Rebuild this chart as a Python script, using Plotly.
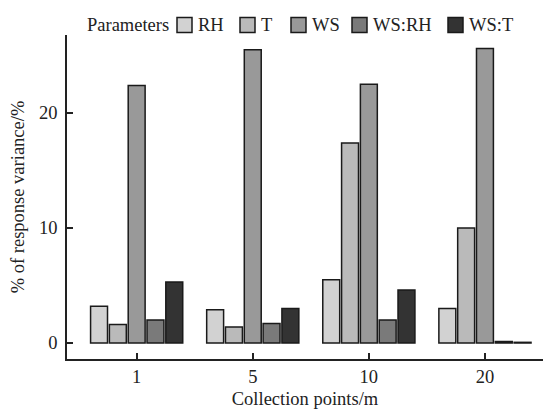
import plotly.graph_objects as go

categories = ["1", "5", "10", "20"]
series_names = ["RH", "T", "WS", "WS:RH", "WS:T"]
rh = [3.2, 2.9, 5.5, 3.0]
t = [1.6, 1.4, 17.4, 10.0]
ws = [22.4, 25.5, 22.5, 25.6]
ws_rh = [2.0, 1.7, 2.0, 0.14]
ws_t = [5.3, 3.0, 4.6, 0.06]
values = [rh, t, ws, ws_rh, ws_t]
colors = ["#d2d2d2", "#bababa", "#999999", "#7a7a7a", "#333333"]

FONT = "Liberation Serif"
FS = 18.5
W, H = 545, 409
ML, MR, MT, MB = 67, 2, 35, 50
PW, PH = W - ML - MR, H - MT - MB


def px_x(px):
    return (px - ML) / PW


def px_y(py):
    return (H - MB - py) / PH


fig = go.Figure()
for name, vals, col in zip(series_names, values, colors):
    fig.add_trace(go.Bar(
        x=categories, y=vals, name=name, showlegend=False,
        marker=dict(color=col, line=dict(color="#1a1a1a", width=1.5)),
    ))

# manual horizontal legend (layout positions in pixels)
legend_box_left = [177, 240, 291, 352, 448]
box_size = 15
legend_cy = 25
shapes = []
annotations = [dict(
    text="Parameters", x=px_x(171), y=px_y(legend_cy), xref="paper", yref="paper",
    xanchor="right", yanchor="middle", showarrow=False,
    font=dict(family=FONT, size=FS, color="#222222"),
)]
for name, col, bx in zip(series_names, colors, legend_box_left):
    shapes.append(dict(
        type="rect", xref="paper", yref="paper",
        x0=px_x(bx), x1=px_x(bx + box_size),
        y0=px_y(legend_cy + box_size / 2), y1=px_y(legend_cy - box_size / 2),
        fillcolor=col, line=dict(color="#1a1a1a", width=1.5),
    ))
    annotations.append(dict(
        text=name, x=px_x(bx + box_size + 4), y=px_y(legend_cy),
        xref="paper", yref="paper", xanchor="left", yanchor="middle",
        showarrow=False, font=dict(family=FONT, size=FS, color="#222222"),
    ))

fig.update_layout(
    width=W, height=H,
    margin=dict(l=ML, r=MR, t=MT, b=MB),
    paper_bgcolor="white", plot_bgcolor="white",
    font=dict(family=FONT, size=FS, color="#222222"),
    barmode="group", bargap=0.19, bargroupgap=0.1,
    showlegend=False,
    shapes=shapes, annotations=annotations,
    xaxis=dict(
        type="category", range=[-0.6, 3.5],
        showline=True, linecolor="#222222", linewidth=1.5,
        ticks="inside", ticklen=6, tickwidth=1.5, tickcolor="#222222",
        showgrid=False, zeroline=False,
        title=dict(text="Collection points/m", standoff=6, font=dict(size=FS)),
        tickfont=dict(size=FS),
    ),
    yaxis=dict(
        range=[-1.39, 26.78],
        tickvals=[0, 10, 20],
        showline=True, linecolor="#222222", linewidth=1.5,
        ticks="inside", ticklen=6, tickwidth=1.5, tickcolor="#222222",
        ticklabelstandoff=4,
        showgrid=False, zeroline=False,
        title=dict(text="% of response variance/%", standoff=10, font=dict(size=FS)),
        tickfont=dict(size=FS),
    ),
)

fig.write_html("out.html")
